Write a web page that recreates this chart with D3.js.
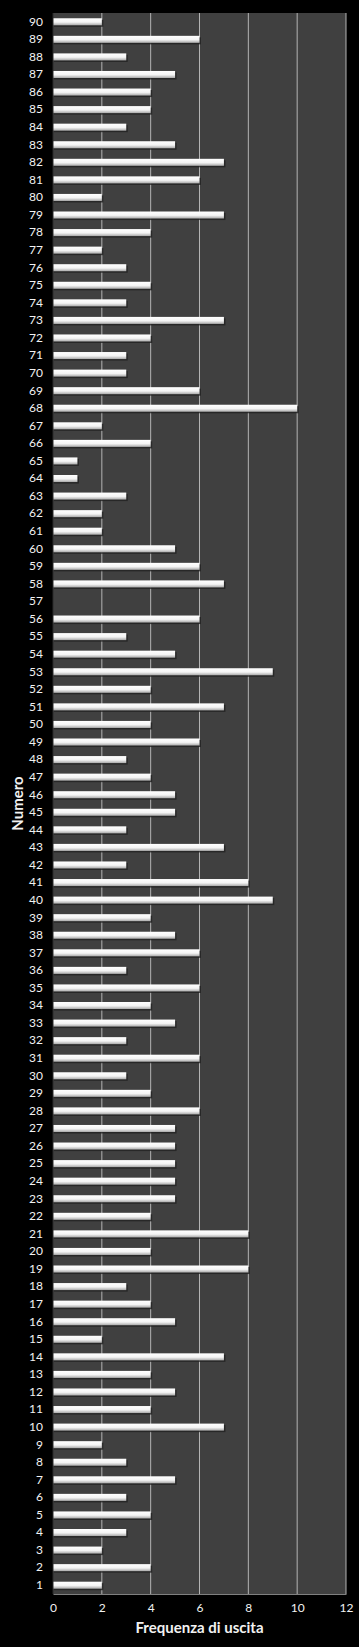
<!DOCTYPE html>
<html lang="it">
<head>
  <meta charset="UTF-8">
  <title>Frequenza di uscita</title>
  <script src="https://d3js.org/d3.v7.min.js"></script>
  <style>
    body { margin: 0; background: #000; }
    svg { display: block; }
    .tick text { font-family: Lato, "Open Sans", sans-serif; fill: #f2f2f2; }
  </style>
</head>
<body>
<div id="chart"></div>
<script>
  // Numeri estratti (1..90) e quante volte sono usciti
  const numbers = d3.range(1, 91);
  const frequencies = [
    2, 4, 2, 3, 4, 3, 5, 3, 2, 7,     // 1-10
    4, 5, 4, 7, 2, 5, 4, 3, 8, 4,     // 11-20
    8, 4, 5, 5, 5, 5, 5, 6, 4, 3,     // 21-30
    6, 3, 5, 4, 6, 3, 6, 5, 4, 9,     // 31-40
    8, 3, 7, 3, 5, 5, 4, 3, 6, 4,     // 41-50
    7, 4, 9, 5, 3, 6, 0, 7, 6, 5,     // 51-60
    2, 2, 3, 1, 1, 4, 2, 10, 6, 3,    // 61-70
    3, 4, 7, 3, 4, 3, 2, 4, 7, 2,     // 71-80
    6, 7, 5, 3, 4, 4, 5, 3, 6, 2      // 81-90
  ];
  const xTicks = [0, 2, 4, 6, 8, 10, 12];

  const data = numbers.map((n, i) => ({ n, v: frequencies[i] }));

  const W = 359, H = 1647;
  const margin = { top: 13, right: 13, bottom: 53, left: 53 };
  const width = W - margin.left - margin.right;
  const height = H - margin.top - margin.bottom;

  const svg = d3.select('#chart').append('svg')
    .attr('width', W)
    .attr('height', H);

  // gradient for the bars (white with a grey bottom edge)
  const defs = svg.append('defs');
  const grad = defs.append('linearGradient')
    .attr('id', 'barGrad')
    .attr('x1', 0).attr('y1', 0).attr('x2', 0).attr('y2', 1);
  grad.append('stop').attr('offset', '0%').attr('stop-color', '#ffffff');
  grad.append('stop').attr('offset', '55%').attr('stop-color', '#f4f4f4');
  grad.append('stop').attr('offset', '100%').attr('stop-color', '#a8a8a8');

  const g = svg.append('g')
    .attr('transform', `translate(${margin.left},${margin.top})`);

  const x = d3.scaleLinear().domain([0, 12]).range([0, width]);
  const y = d3.scaleBand()
    .domain(numbers.slice().reverse())
    .range([0, height])
    .paddingInner(0.6)
    .paddingOuter(0.3);

  // plot area
  g.append('rect')
    .attr('width', width)
    .attr('height', height)
    .attr('fill', '#404040');

  // vertical gridlines
  g.append('g')
    .selectAll('line')
    .data(xTicks.slice(1))
    .join('line')
    .attr('x1', d => x(d)).attr('x2', d => x(d))
    .attr('y1', 0).attr('y2', height)
    .attr('stroke', '#b4b4b4')
    .attr('stroke-width', 1);

  // bar shadows
  g.append('g')
    .selectAll('rect')
    .data(data.filter(d => d.v > 0))
    .join('rect')
    .attr('x', 1)
    .attr('y', d => y(d.n) + 1.5)
    .attr('width', d => x(d.v) + 0.5)
    .attr('height', y.bandwidth())
    .attr('fill', '#202020')
    .attr('opacity', 0.8);

  // bars
  g.append('g')
    .selectAll('rect')
    .data(data.filter(d => d.v > 0))
    .join('rect')
    .attr('x', 0)
    .attr('y', d => y(d.n))
    .attr('width', d => x(d.v))
    .attr('height', y.bandwidth())
    .attr('fill', 'url(#barGrad)');

  // left axis line (darker edge of the plot)
  g.append('line')
    .attr('x1', 0).attr('x2', 0)
    .attr('y1', 0).attr('y2', height)
    .attr('stroke', '#2a2a2a');

  // y axis
  const yAxis = g.append('g')
    .call(d3.axisLeft(y).tickSize(0).tickPadding(10));
  yAxis.select('.domain').remove();
  yAxis.selectAll('text').attr('font-size', 12);

  // x axis
  const xAxis = g.append('g')
    .attr('transform', `translate(0,${height})`)
    .call(d3.axisBottom(x).tickValues(xTicks).tickSize(0).tickPadding(9));
  xAxis.select('.domain').attr('stroke', '#808080');
  xAxis.selectAll('text').attr('font-size', 12);

  // axis titles
  svg.append('text')
    .attr('x', margin.left + width / 2)
    .attr('y', H - 14)
    .attr('text-anchor', 'middle')
    .attr('font-family', 'Lato, "Open Sans", sans-serif')
    .attr('font-weight', 'bold')
    .attr('font-size', 15)
    .attr('fill', '#f2f2f2')
    .text('Frequenza di uscita');

  svg.append('text')
    .attr('transform', `translate(23,${margin.top + height / 2}) rotate(-90)`)
    .attr('text-anchor', 'middle')
    .attr('font-family', 'Lato, "Open Sans", sans-serif')
    .attr('font-weight', 'bold')
    .attr('font-size', 15)
    .attr('fill', '#f2f2f2')
    .text('Numero');
</script>
</body>
</html>
